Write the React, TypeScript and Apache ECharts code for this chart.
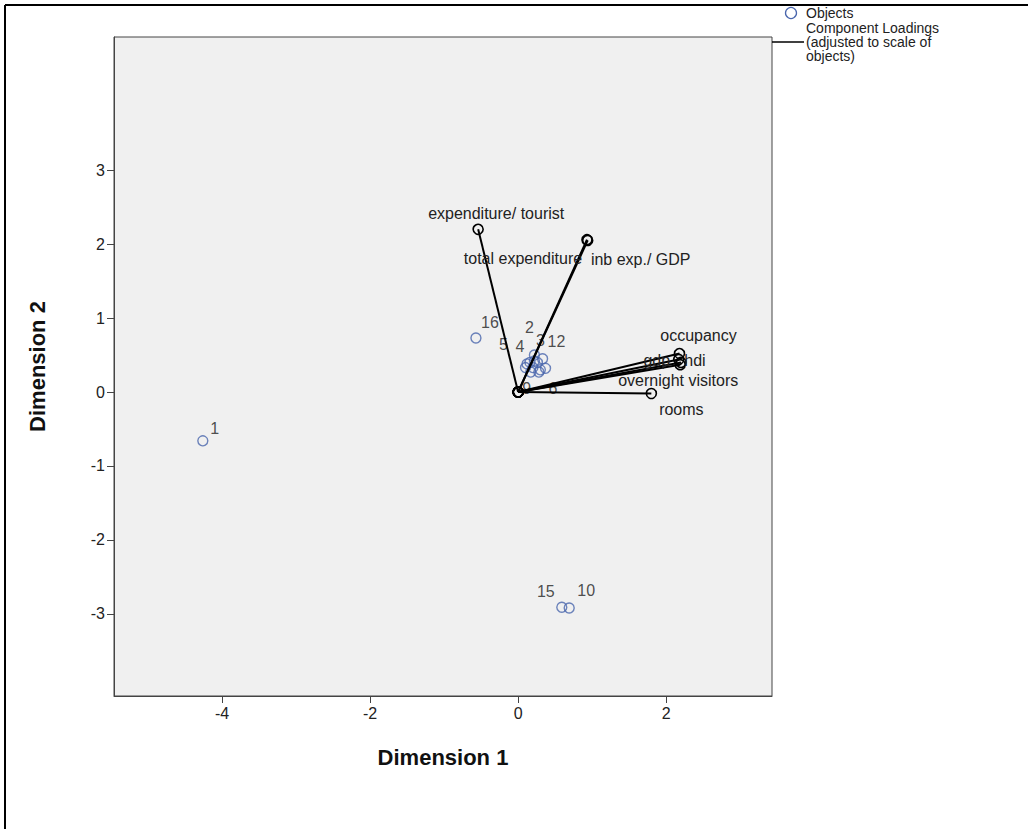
import React, { useEffect, useRef } from "react";
import * as echarts from "echarts";

// ---- Data ----
const objectLabels = ["1", "2", "3", "4", "5", "6", "7", "8", "9", "10", "11", "12", "13", "14", "15", "16"];
const objectDim1 = [-4.26, 0.22, 0.33, 0.16, 0.10, 0.28, 0.12, 0.20, 0.17, 0.69, 0.26, 0.37, 0.30, 0.22, 0.59, -0.57];
const objectDim2 = [-0.66, 0.50, 0.45, 0.40, 0.33, 0.27, 0.38, 0.33, 0.27, -2.92, 0.40, 0.32, 0.30, 0.42, -2.91, 0.73];
const objectShowLabel = [true, true, true, true, true, true, false, false, true, true, false, true, false, false, true, true];

const loadingNames = ["expenditure/ tourist", "total expenditure", "inb exp./ GDP", "occupancy", "gdp", "hdi", "overnight visitors", "rooms"];
const loadingDim1 = [-0.54, 0.93, 0.94, 2.18, 2.17, 2.20, 2.19, 1.80];
const loadingDim2 = [2.20, 2.06, 2.05, 0.52, 0.44, 0.40, 0.37, -0.02];

const xTicks = [-4, -2, 0, 2];
const yTicks = [-3, -2, -1, 0, 1, 2, 3];

const legendObjects = "Objects";
const legendLoadings = ["Component Loadings", "(adjusted to scale of", "objects)"];

// ---- Layout (label offsets in px, not data) ----
const objectLabelOffsets: number[][] = [
  [12, -12], [-5, -28], [-2, -18], [-10, -16], [-22, -23], [14, 16], [0, 0], [0, 0],
  [-4, 16], [17, -17], [0, 0], [11, -27], [0, 0], [0, 0], [-16, -16], [14, -16],
];
const loadingLabelOffsets: number[][] = [
  [18, -16], [-64, 19], [53, 19], [19, -18], [-22, 1], [14, -2], [-2, 16], [30, 16],
];

const FONT = "'Liberation Sans', Arial, sans-serif";
const BLUE = "#4a66ad";
const TXT = 16;

export default function App() {
  const ref = useRef<HTMLDivElement>(null);
  useEffect(() => {
    if (!ref.current) return;
    const chart = echarts.init(ref.current, undefined, { renderer: "svg" });

    const objData = objectLabels.map((lab, i) => ({
      value: [objectDim1[i], objectDim2[i]],
      name: lab,
      label: {
        show: objectShowLabel[i],
        formatter: lab,
        position: "inside",
        offset: objectLabelOffsets[i],
        color: "#222",
        fontSize: TXT,
        fontFamily: FONT,
      },
    }));

    const loadingSeries = loadingNames.map((nm, i) => ({
      type: "line",
      name: nm,
      symbol: "circle",
      symbolSize: 10,
      showSymbol: true,
      z: 3,
      lineStyle: { color: "#000", width: 2 },
      itemStyle: { color: "rgba(0,0,0,0)", borderColor: "#000", borderWidth: 1.6 },
      emphasis: { disabled: true },
      data: [
        { value: [0, 0], label: { show: false } },
        {
          value: [loadingDim1[i], loadingDim2[i]],
          label: {
            show: true,
            formatter: nm,
            position: "inside",
            offset: loadingLabelOffsets[i],
            color: "#222",
            fontSize: TXT,
            fontFamily: FONT,
          },
        },
      ],
    }));

    const legendLine = (text: string, y: number) => ({
      type: "text",
      x: 806,
      y,
      style: { text, fontSize: 14, fontFamily: FONT, fill: "#222", verticalAlign: "middle" },
    });

    chart.setOption({
      animation: false,
      backgroundColor: "#fff",
      grid: {
        left: 114,
        right: 261,
        top: 37,
        bottom: 133,
        show: true,
        backgroundColor: "#f0f0f0",
        borderColor: "#444",
        borderWidth: 1,
      },
      xAxis: {
        type: "value",
        min: -5.46,
        max: 3.43,
        name: "Dimension 1",
        nameLocation: "middle",
        nameGap: 50,
        nameTextStyle: { fontSize: 22, fontWeight: "bold", color: "#111", fontFamily: FONT },
        axisLine: { show: true, onZero: false, lineStyle: { color: "#444", width: 1 } },
        axisTick: { show: true, customValues: xTicks, length: 7, lineStyle: { color: "#444" } },
        axisLabel: { customValues: xTicks, color: "#222", fontSize: TXT, fontFamily: FONT, margin: 9 },
        splitLine: { show: false },
      },
      yAxis: {
        type: "value",
        min: -4.11,
        max: 4.8,
        name: "Dimension 2",
        nameLocation: "middle",
        nameGap: 66,
        nameRotate: 90,
        nameTextStyle: { fontSize: 22, fontWeight: "bold", color: "#111", fontFamily: FONT },
        axisLine: { show: true, onZero: false, lineStyle: { color: "#444", width: 1 } },
        axisTick: { show: true, customValues: yTicks, length: 7, lineStyle: { color: "#444" } },
        axisLabel: { customValues: yTicks, color: "#222", fontSize: TXT, fontFamily: FONT, margin: 9 },
        splitLine: { show: false },
      },
      series: [
        {
          type: "scatter",
          name: "Objects",
          symbol: "circle",
          symbolSize: 10,
          z: 2,
          itemStyle: { color: "rgba(0,0,0,0)", borderColor: BLUE, borderWidth: 1.4 },
          emphasis: { disabled: true },
          data: objData,
        },
        ...loadingSeries,
      ],
      graphic: [
        { type: "line", shape: { x1: 5, y1: 5, x2: 1028, y2: 5 }, style: { stroke: "#000", lineWidth: 2 } },
        { type: "line", shape: { x1: 5, y1: 5, x2: 5, y2: 829 }, style: { stroke: "#000", lineWidth: 2 } },
        { type: "circle", shape: { cx: 791, cy: 13, r: 5.5 }, style: { fill: "none", stroke: BLUE, lineWidth: 1.3 } },
        legendLine(legendObjects, 13),
        legendLine(legendLoadings[0], 28),
        legendLine(legendLoadings[1], 42),
        legendLine(legendLoadings[2], 56),
        { type: "line", shape: { x1: 772, y1: 42, x2: 804, y2: 42 }, style: { stroke: "#000", lineWidth: 1.5 } },
      ],
    });
    return () => chart.dispose();
  }, []);
  return (
    <div
      ref={ref}
      style={{ position: "absolute", left: 0, top: 0, width: 1033, height: 829 }}
    />
  );
}
